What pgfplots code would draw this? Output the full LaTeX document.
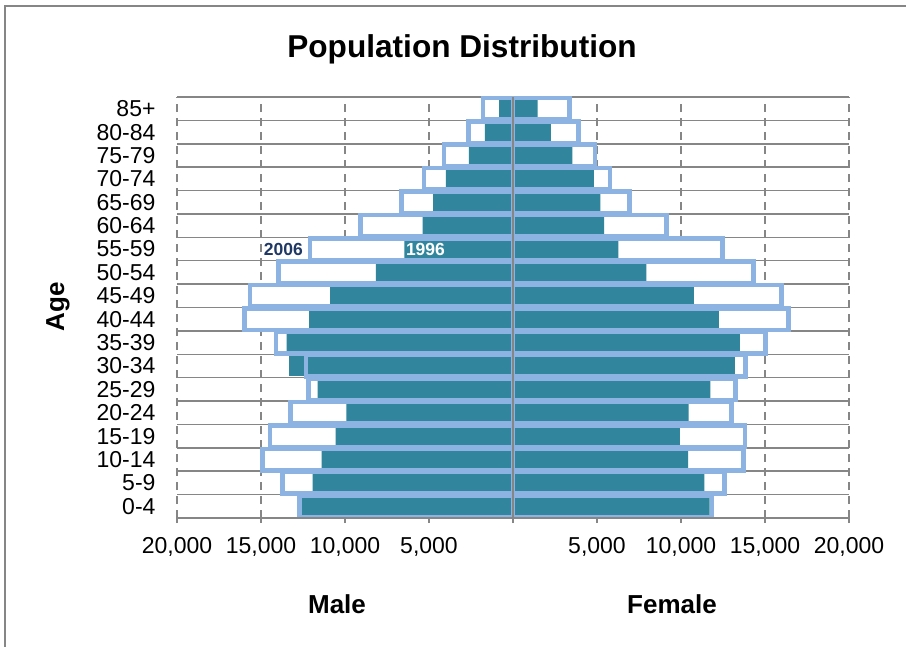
\documentclass[border=0pt]{standalone}
\usepackage{fontspec}
\setmainfont{Liberation Sans}
\usepackage{pgfplots}
\usepackage{pgfplotstable}
\pgfplotsset{compat=1.18}

\definecolor{teal96}{HTML}{31859C}
\definecolor{blue06}{HTML}{8DB3E2}
\definecolor{gridgray}{HTML}{868686}
\definecolor{navy}{HTML}{1F3864}

% male values negative, female positive
\pgfplotstableread{
y  m96     m06     f96    f06
0  -12580  -12720  11710  11850
1  -11930  -13730  11390  12600
2  -11390  -14920  10420  13730
3  -10560  -14460  9940   13810
4  -9920   -13230  10460  13020
5  -11630  -12160  11750  13250
6  -13330  -12320  13210  13850
7  -13470  -14110  13510  15040
8  -12140  -15970  12260  16410
9  -10890  -15640  10770  15970
10 -8160   -13950  7940   14310
11 -6470   -12080  6270   12460
12 -5380   -9090   5420   9130
13 -4760   -6650   5200   6940
14 -3990   -5300   4820   5770
15 -2620   -4110   3530   4880
16 -1670   -2660   2260   3910
17 -820    -1800   1470   3350
}\popdata

\begin{document}
\begin{tikzpicture}
\path[use as bounding box] (0bp,0bp) rectangle (906bp,-647bp);
\draw[gridgray, line width=1.5bp] (5bp,-660bp) -- (5bp,-6bp) -- (920bp,-6bp);

\begin{axis}[
    at={(177bp,-518bp)}, anchor=south west,
    width=672bp, height=421bp, scale only axis,
    xmin=-20000, xmax=20000, ymin=-0.5, ymax=17.5,
    clip=false,
    axis line style={draw=none},
    scaled x ticks=false,
    xtick={-20000,-15000,...,20000},
    xticklabels={{20,000},{15,000},{10,000},{5,000},{},{5,000},{10,000},{15,000},{20,000}},
    xtick pos=bottom, xtick align=center,
    major tick length=10bp, minor tick length=0pt,
    x tick style={gridgray, line width=1.5bp},
    xmajorgrids,
    major x grid style={gridgray, line width=1.5bp, dash pattern=on 8bp off 6bp},
    ytick={0,...,17},
    yticklabels={0-4,5-9,10-14,15-19,20-24,25-29,30-34,35-39,40-44,45-49,50-54,55-59,60-64,65-69,70-74,75-79,80-84,85+},
    y tick style={draw=none},
    minor ytick={-0.5,0.5,...,17.5},
    yminorgrids,
    minor y grid style={gridgray, line width=1.5bp},
    tick label style={font=\fontsize{23bp}{23bp}\selectfont},
    xticklabel style={yshift=-11bp},
    yticklabel style={xshift=-18bp},
    /pgf/number format/assume math mode=true,
]
% white backing of the 2006 boxes
\addplot[xbar, bar width=0.92, bar shift=0pt, fill=white, draw=none] table[x=m06, y=y] {\popdata};
\addplot[xbar, bar width=0.92, bar shift=0pt, fill=white, draw=none] table[x=f06, y=y] {\popdata};
% 1996 filled bars
\addplot[xbar, bar width=0.84, bar shift=0pt, fill=teal96, draw=none] table[x=m96, y=y] {\popdata};
\addplot[xbar, bar width=0.84, bar shift=0pt, fill=teal96, draw=none] table[x=f96, y=y] {\popdata};
% 2006 outlines
\addplot[xbar, bar width=0.92, bar shift=0pt, fill=none, draw=blue06, line width=4.5bp] table[x=m06, y=y] {\popdata};
\addplot[xbar, bar width=0.92, bar shift=0pt, fill=none, draw=blue06, line width=4.5bp] table[x=f06, y=y] {\popdata};

\draw[gridgray, line width=1.5bp] (axis cs:0,-0.5) -- (axis cs:0,17.5);
\draw[gridgray, line width=1.5bp] (axis cs:-20000,-0.5) -- (axis cs:20000,-0.5);

\node[anchor=east, inner sep=0pt, text=navy, font=\bfseries\fontsize{17.5bp}{17.5bp}\selectfont] at (axis cs:-12500,11) {2006};
\node[anchor=west, inner sep=0pt, text=white, font=\bfseries\fontsize{17.5bp}{17.5bp}\selectfont] at (axis cs:-6380,11) {1996};
\end{axis}

\node[anchor=base, font=\bfseries\fontsize{31.6bp}{32bp}\selectfont] at (462bp,-57bp) {Population Distribution};
\node[rotate=90, font=\bfseries\fontsize{26bp}{26bp}\selectfont] at (58bp,-307bp) {Age};
\node[font=\bfseries\fontsize{26bp}{26bp}\selectfont] at (337bp,-604bp) {Male};
\node[font=\bfseries\fontsize{26bp}{26bp}\selectfont] at (672bp,-604bp) {Female};
\end{tikzpicture}
\end{document}
